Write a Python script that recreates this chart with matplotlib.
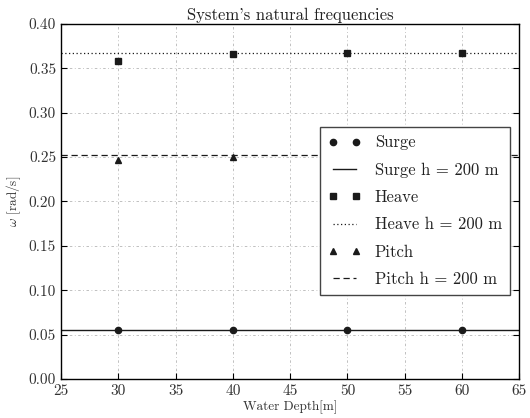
import matplotlib
matplotlib.use("Agg")
import matplotlib.pyplot as plt

# dados
profundidade = [30, 40, 50, 60]
surge = [0.0552, 0.0552, 0.0552, 0.0552]
heave = [0.3585, 0.3655, 0.3668, 0.3668]
pitch = [0.2468, 0.2500]
profundidade_pitch = [30, 40]

# valores para h = 200 m
surge_200 = 0.0552
heave_200 = 0.3675
pitch_200 = 0.2518

plt.rcParams['font.family'] = 'serif'
plt.rcParams['font.serif'] = ['cmr10', 'DejaVu Serif']
plt.rcParams['mathtext.fontset'] = 'cm'
plt.rcParams['axes.unicode_minus'] = False

fig = plt.figure(figsize=(5.30, 4.18), dpi=100)
ax = fig.add_axes([0.115, 0.093, 0.865, 0.85])

cor = '#1a1a1a'
ax.plot(profundidade, surge, 'o', color=cor, ms=4.5, label='Surge')
ax.axhline(surge_200, color=cor, lw=1.0, ls='-', label='Surge h = 200 m')
ax.plot(profundidade, heave, 's', color=cor, ms=4.5, label='Heave')
ax.axhline(heave_200, color=cor, lw=0.9, ls=(0, (1, 2)), label='Heave h = 200 m')
ax.plot(profundidade_pitch, pitch, '^', color=cor, ms=4.5, label='Pitch')
ax.axhline(pitch_200, color=cor, lw=0.9, ls=(0, (5, 3)), label='Pitch h = 200 m')

ax.set_xlim(25, 65)
ax.set_ylim(0, 0.40)
ax.set_xticks(range(25, 66, 5))
ax.set_yticks([i * 0.05 for i in range(9)])
ax.set_yticklabels(['%.2f' % (i * 0.05) for i in range(9)])
ax.tick_params(direction='in', top=False, right=True, labelsize=11, length=4,
               labelcolor='#333333')
ax.grid(True, color='#b5b5b5', lw=0.6, ls=(0, (3, 3, 1, 3)))
for s in ax.spines.values():
    s.set_linewidth(1.0)

ax.set_title("System's natural frequencies", fontsize=12, pad=3, color='#222222')
ax.set_xlabel('Water Depth[m]', fontsize=9.5, labelpad=2, color='#333333')
ax.set_ylabel(r'$\omega$ [rad/s]', fontsize=9.5, labelpad=4, color='#333333')

leg = ax.legend(loc='center right', bbox_to_anchor=(0.98, 0.473), numpoints=2,
                borderaxespad=0, fancybox=False, framealpha=1,
                edgecolor='#444444', fontsize=12, handlelength=2.0,
                labelspacing=0.72, borderpad=0.5)
leg.get_frame().set_linewidth(1.0)
for t in leg.get_texts():
    t.set_color('#222222')

fig.savefig('out.png', dpi=100)
